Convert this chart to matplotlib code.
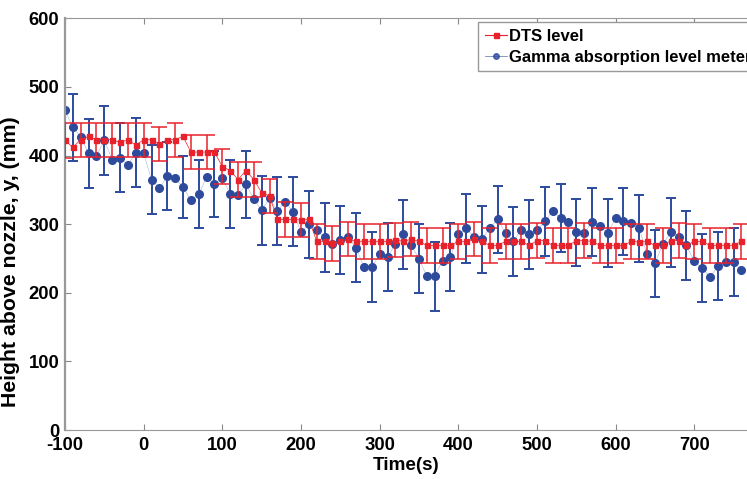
import matplotlib
matplotlib.use('Agg')
import matplotlib.pyplot as plt
from matplotlib.lines import Line2D

plt.rcParams['font.family'] = ['Liberation Sans', 'DejaVu Sans']
plt.rcParams['font.weight'] = 'bold'
plt.rcParams['axes.unicode_minus'] = False

# time axis, one sample every 10 s
time_s = list(range(-100, 770, 10))

dts_level = [
    422, 412, 423, 428, 423, 423, 423, 419, 423, 415,
    423, 423, 417, 423, 423, 428, 405, 405, 405, 405,
    384, 378, 365, 378, 365, 346, 341, 307, 307, 307,
    306, 307, 275, 275, 272, 275, 278, 275, 275, 275,
    275, 275, 277, 275, 278, 275, 269, 269, 269, 269,
    275, 275, 278, 275, 269, 269, 275, 275, 275, 269,
    276, 276, 269, 269, 269, 276, 276, 275, 269, 269,
    269, 269, 275, 274, 275, 269, 269, 276, 276, 269,
    275, 275, 269, 269, 269, 269, 275,
]
dts_err = [25] * len(dts_level)

gamma_level = [
    466, 441, 427, 403, 399, 422, 394, 397, 386, 404,
    403, 365, 352, 370, 367, 354, 335, 344, 368, 359,
    367, 344, 343, 358, 337, 320, 338, 319, 333, 318,
    288, 300, 291, 281, 271, 277, 281, 266, 237, 237,
    256, 252, 271, 285, 269, 250, 224, 224, 247, 252,
    285, 294, 281, 278, 295, 307, 287, 275, 292, 285,
    291, 304, 319, 309, 303, 288, 287, 303, 297, 287,
    309, 304, 301, 294, 256, 243, 271, 288, 282, 269,
    246, 236, 223, 239, 245, 245, 233,
]
gamma_err = [
    0, 49, 0, 50, 0, 50, 0, 50, 0, 50,
    0, 50, 0, 49, 0, 45, 0, 49, 0, 48,
    0, 50, 0, 49, 0, 50, 0, 50, 0, 50,
    0, 49, 0, 50, 0, 49, 0, 50, 0, 51,
    0, 50, 0, 50, 0, 50, 0, 50, 0, 50,
    0, 50, 0, 49, 0, 49, 0, 50, 0, 50,
    0, 50, 0, 49, 0, 49, 0, 50, 0, 50,
    0, 49, 0, 49, 0, 49, 0, 50, 0, 50,
    0, 50, 0, 50, 0, 50, 0,
]

red = '#E8222C'
blue = '#2D4A9C'

fig = plt.figure(figsize=(7.47, 4.79), dpi=100)
ax = fig.add_axes([0.087, 0.102, 0.913, 0.860])

ax.errorbar(time_s, gamma_level, yerr=gamma_err, errorevery=(1, 2),
            fmt='o', color=blue, ecolor=blue, markersize=5.5, elinewidth=1.4,
            capsize=3.3, capthick=1.4, zorder=2)
ax.plot(time_s, gamma_level, '-', color=blue, lw=0.4, alpha=0.4, zorder=1)

ax.errorbar(time_s, dts_level, yerr=dts_err, errorevery=(0, 2),
            fmt='s-', color=red, ecolor=red, markersize=3.6, lw=0.5,
            elinewidth=1.1, capsize=5.8, capthick=1.1, zorder=3)

ax.set_xlim(-100, 767)
ax.set_ylim(0, 600)
ax.set_xticks(range(-100, 800, 100))
ax.set_yticks(range(0, 700, 100))
ax.tick_params(direction='in', length=4, top=True, right=False,
               labelsize=13.3, color='#888888')
ax.tick_params(axis='x', pad=5)
ax.tick_params(axis='y', pad=4)
for lab in ax.get_xticklabels() + ax.get_yticklabels():
    lab.set_fontweight('bold')
for side in ['left', 'bottom', 'top']:
    ax.spines[side].set_color('#999999')
ax.spines['left'].set_linewidth(1.6)
ax.spines['right'].set_visible(False)

ax.set_xlabel('Time(s)', fontsize=13.6, fontweight='bold', labelpad=2)
ax.set_ylabel('Height above nozzle, y, (mm)', fontsize=15.3, fontweight='bold')
ax.yaxis.set_label_coords(-0.066, 0.41)

handles = [
    Line2D([], [], color=red, marker='s', markersize=3.6, lw=0.8),
    Line2D([], [], color=blue, marker='o', markersize=4, lw=0.5, alpha=0.8),
]
leg = ax.legend(handles, ['DTS level', 'Gamma absorption level meter'],
                loc='upper left', bbox_to_anchor=(0.606, 0.99), borderaxespad=0,
                prop={'weight': 'bold', 'size': 12}, handlelength=1.3,
                handletextpad=0.15, borderpad=0.4, labelspacing=0.35,
                fancybox=False, framealpha=1)
leg.get_frame().set_edgecolor('#999999')

fig.savefig('out.png', dpi=100)
